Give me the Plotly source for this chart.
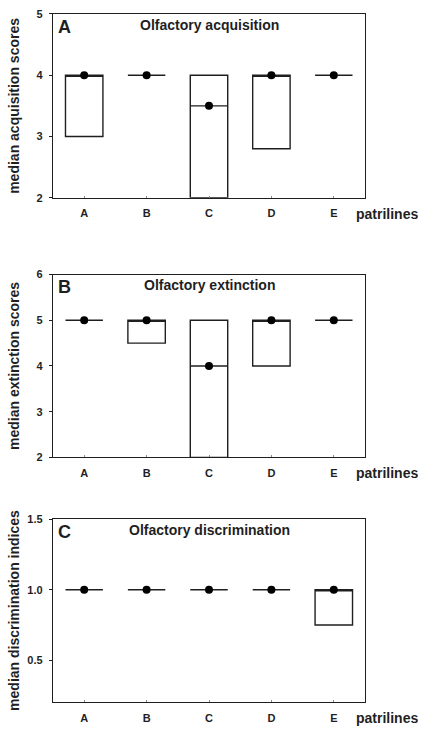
import plotly.graph_objects as go

patrilines = ["A", "B", "C", "D", "E"]

# Panel A: Olfactory acquisition
acq_q1 = [3.0, 4.0, 2.0, 2.8, 4.0]
acq_median = [4.0, 4.0, 3.5, 4.0, 4.0]
acq_q3 = [4.0, 4.0, 4.0, 4.0, 4.0]

# Panel B: Olfactory extinction
ext_q1 = [5.0, 4.5, 2.0, 4.0, 5.0]
ext_median = [5.0, 5.0, 4.0, 5.0, 5.0]
ext_q3 = [5.0, 5.0, 5.0, 5.0, 5.0]

# Panel C: Olfactory discrimination
dis_q1 = [1.0, 1.0, 1.0, 1.0, 0.75]
dis_median = [1.0, 1.0, 1.0, 1.0, 1.0]
dis_q3 = [1.0, 1.0, 1.0, 1.0, 1.0]

W, H = 421, 731

panels = [
    dict(letter="A", title="Olfactory acquisition", ytitle="median acquisition scores",
         q1=acq_q1, med=acq_median, q3=acq_q3, yrange=[2, 5], tickvals=[2, 3, 4, 5],
         ticktext=["2", "3", "4", "5"], top=8, bot=195),
    dict(letter="B", title="Olfactory extinction", ytitle="median extinction scores",
         q1=ext_q1, med=ext_median, q3=ext_q3, yrange=[2, 6], tickvals=[2, 3, 4, 5, 6],
         ticktext=["2", "3", "4", "5", "6"], top=273, bot=459),
    dict(letter="C", title="Olfactory discrimination", ytitle="median discrimination indices",
         q1=dis_q1, med=dis_median, q3=dis_q3, yrange=[0.2, 1.5], tickvals=[0.5, 1.0, 1.5],
         ticktext=["0.5", "1.0", "1.5"], top=522, bot=708),
]

INK = "#1f1f1f"
FONT = "Liberation Sans, Arial, sans-serif"

fig = go.Figure()
annotations = []
xdom = [53 / W, 365 / W]

for i, p in enumerate(panels):
    n = "" if i == 0 else str(i + 1)
    xa, ya = "x" + n, "y" + n
    dom = [1 - p["bot"] / H, 1 - p["top"] / H]
    ph = p["bot"] - p["top"]
    fig.add_trace(go.Box(
        x=patrilines, q1=p["q1"], median=p["med"], q3=p["q3"],
        lowerfence=p["q1"], upperfence=p["q3"],
        width=0.6, whiskerwidth=0, fillcolor="white",
        line=dict(color=INK, width=1.4), boxpoints=False,
        xaxis=xa, yaxis=ya, showlegend=False, hoverinfo="skip",
    ))
    fig.add_trace(go.Scatter(
        x=patrilines, y=p["med"], mode="markers",
        marker=dict(color="black", size=8),
        xaxis=xa, yaxis=ya, showlegend=False, hoverinfo="skip",
    ))
    axis_common = dict(showline=True, mirror=True, linecolor=INK, linewidth=1.4,
                       showgrid=False, zeroline=False)
    fig.update_layout(**{
        ("xaxis" + n): dict(domain=xdom, anchor=ya, type="category",
                            range=[-0.5, 4.5], ticks="inside", ticklen=2, tickcolor="#888",
                            tickfont=dict(family=FONT, size=11, color=INK, weight="bold"),
                            ticklabelstandoff=5, **axis_common),
        ("yaxis" + n): dict(domain=dom, anchor=xa, range=p["yrange"],
                            tickvals=p["tickvals"], ticktext=p["ticktext"],
                            ticks="outside", ticklen=3, tickcolor=INK, tickwidth=1.2,
                            tickfont=dict(family=FONT, size=11, color=INK, weight="bold"),
                            ticklabelstandoff=4, **axis_common),
    })
    dx = xa + " domain"
    dy = ya + " domain"
    annotations += [
        dict(text=p["letter"], xref=dx, yref=dy, x=0.01, y=1 - 13 / ph, xanchor="left",
             yanchor="middle", showarrow=False,
             font=dict(family=FONT, size=18, color=INK, weight="bold")),
        dict(text=p["title"], xref=dx, yref=dy, x=0.5, y=1 - 11 / ph, xanchor="center",
             yanchor="middle", showarrow=False,
             font=dict(family=FONT, size=14, color=INK, weight="bold")),
        dict(text=p["ytitle"], xref="paper", yref=dy, x=14 / W, y=0.5, xanchor="center",
             yanchor="middle", textangle=-90, showarrow=False,
             font=dict(family=FONT, size=14, color=INK, weight="bold")),
        dict(text="patrilines", xref="paper", yref=dy, x=420 / W, y=-16 / ph,
             xanchor="right", yanchor="middle", showarrow=False,
             font=dict(family=FONT, size=14, color=INK, weight="bold")),
    ]

fig.update_layout(
    width=W, height=H, margin=dict(l=0, r=0, t=0, b=0),
    paper_bgcolor="white", plot_bgcolor="white",
    annotations=annotations, showlegend=False,
)

fig.write_html("out.html", config={"displayModeBar": False},
               post_script="document.body.style.margin='0';")
